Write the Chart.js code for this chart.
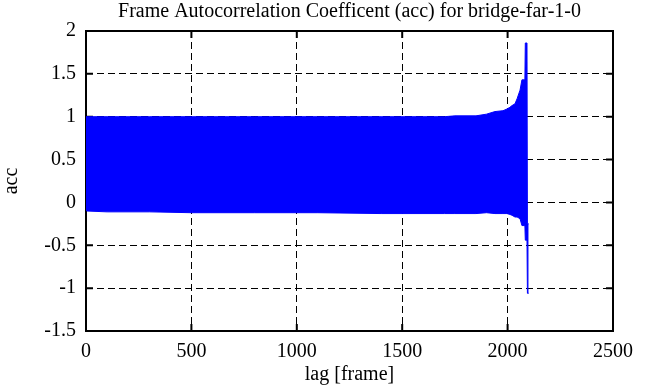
<!DOCTYPE html>
<html>
<head>
<meta charset="utf-8">
<script src="https://cdn.jsdelivr.net/npm/chart.js@4"></script>
<style>
  html, body { margin: 0; padding: 0; background: #fff; }
  canvas { display: block; }
</style>
</head>
<body>
<canvas id="accChart" width="646" height="387"></canvas>
<script>
// ================== DATA ==================
// the acc series swings between an upper and a lower envelope every frame,
// so it is drawn as the band between those two envelopes
const lags = [0, 3, 100, 300, 500, 800, 1100, 1400, 1700, 1750, 1850, 1900, 1940, 1978, 1997,
              2011, 2021, 2035, 2045, 2059, 2068, 2082, 2084, 2092, 2094, 2100];
const accUpper = [1.0, 1.0, 1.0, 1.0, 1.0, 1.0, 1.0, 1.0, 1.0, 1.01, 1.01, 1.03, 1.06, 1.07, 1.09,
                  1.11, 1.13, 1.15, 1.21, 1.31, 1.43, 1.43, 1.86, 1.86, -0.25, -0.25];
const accLower = [0.06, -0.10, -0.11, -0.11, -0.12, -0.12, -0.12, -0.13, -0.13, -0.13, -0.13, -0.12, -0.13, -0.13, -0.13,
                  -0.14, -0.15, -0.17, -0.17, -0.19, -0.27, -0.27, -0.44, -0.44, -1.06, -1.06];

const xTicks = [0, 500, 1000, 1500, 2000, 2500];
const yTicks = [-1.5, -1, -0.5, 0, 0.5, 1, 1.5, 2];

const FONT = "'Liberation Serif', 'DejaVu Serif', serif";

// ================== FRAME + INWARD TICKS (gnuplot style) ==================
const framePlugin = {
    id: "frame",
    beforeDatasetsDraw(chart) {
        const { ctx, chartArea: a, scales: { x, y } } = chart;
        const len = 7;
        ctx.save();
        ctx.strokeStyle = "#000";
        ctx.lineWidth = 2;
        ctx.beginPath();
        xTicks.forEach(v => {
            const px = x.getPixelForValue(v);
            ctx.moveTo(px, a.top); ctx.lineTo(px, a.top + len);
            ctx.moveTo(px, a.bottom); ctx.lineTo(px, a.bottom - len);
        });
        yTicks.forEach(v => {
            const py = y.getPixelForValue(v);
            ctx.moveTo(a.left, py); ctx.lineTo(a.left + len, py);
            ctx.moveTo(a.right, py); ctx.lineTo(a.right - len, py);
        });
        ctx.stroke();
        ctx.strokeRect(a.left, a.top, a.right - a.left, a.bottom - a.top);
        ctx.restore();
    }
};

// ================== CHART ==================
const ctx = document.getElementById("accChart");

new Chart(ctx, {
    type: "line",
    data: {
        datasets: [{
            label: "acc upper",
            data: lags.map((l, i) => ({ x: l, y: accUpper[i] })),
            borderColor: "#0000ff",
            backgroundColor: "#0000ff",
            borderWidth: 1,
            pointRadius: 0,
            fill: "+1",
            tension: 0
        }, {
            label: "acc lower",
            data: lags.map((l, i) => ({ x: l, y: accLower[i] })),
            borderColor: "#0000ff",
            borderWidth: 1,
            pointRadius: 0,
            fill: false,
            tension: 0
        }]
    },
    options: {
        responsive: false,
        animation: false,
        layout: { padding: { left: 0, right: 33, top: 0, bottom: 0 } },
        plugins: {
            legend: { display: false },
            tooltip: { enabled: false },
            title: {
                display: true,
                text: "Frame Autocorrelation Coefficent (acc) for bridge-far-1-0",
                fullSize: false,
                color: "#000",
                font: { family: FONT, size: 20, weight: "normal" },
                padding: { top: 0, bottom: 7 }
            }
        },
        scales: {
            x: {
                type: "linear",
                min: 0,
                max: 2500,
                afterBuildTicks: s => { s.ticks = xTicks.map(v => ({ value: v })); },
                afterFit: s => { s.height = 56; },
                grid: { color: "#000", lineWidth: 1, drawTicks: false },
                border: { display: false, dash: [7, 4] },
                ticks: {
                    color: "#000",
                    padding: 9,
                    maxRotation: 0,
                    font: { family: FONT, size: 20 },
                    callback: v => String(v)
                },
                title: {
                    display: true,
                    text: "lag [frame]",
                    color: "#000",
                    font: { family: FONT, size: 20 },
                    padding: { top: 0, bottom: 0 }
                }
            },
            y: {
                type: "linear",
                min: -1.5,
                max: 2,
                afterBuildTicks: s => { s.ticks = yTicks.map(v => ({ value: v })); },
                afterFit: s => { s.width = 86; },
                grid: { color: "#000", lineWidth: 1, drawTicks: false },
                border: { display: false, dash: [7, 4] },
                ticks: {
                    color: "#000",
                    padding: 10,
                    font: { family: FONT, size: 20 },
                    callback: v => String(v)
                },
                title: {
                    display: true,
                    text: "acc",
                    color: "#000",
                    font: { family: FONT, size: 20 },
                    padding: { top: 0, bottom: 0 }
                }
            }
        }
    },
    plugins: [framePlugin]
});
</script>
</body>
</html>
